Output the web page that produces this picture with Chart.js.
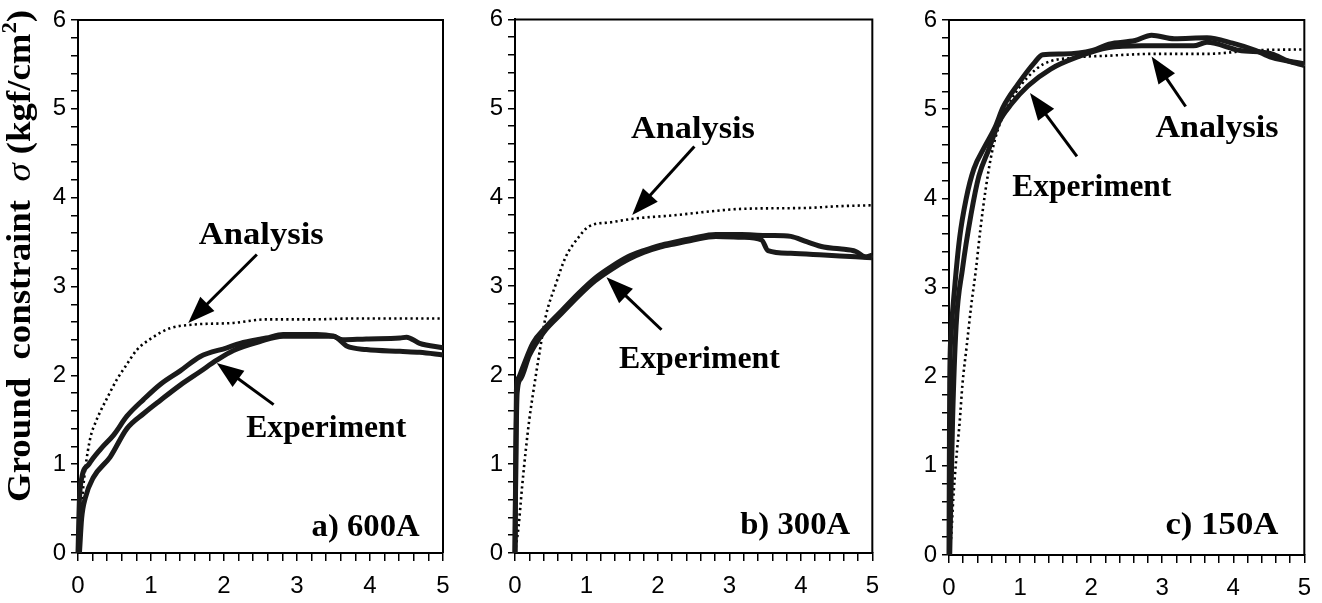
<!DOCTYPE html>
<html><head><meta charset="utf-8">
<script src="https://cdn.jsdelivr.net/npm/chart.js@4.4.0/dist/chart.umd.min.js"></script>
<style>
html,body{margin:0;padding:0;background:#fff;}
#wrap{position:relative;width:1322px;height:603px;overflow:hidden;background:#fff;}
canvas{position:absolute;top:0;}
</style></head><body>
<div id="wrap">
<canvas id="ca" width="462" height="603" style="left:0px"></canvas>
<canvas id="cb" width="428" height="603" style="left:462px"></canvas>
<canvas id="cc" width="432" height="603" style="left:890px"></canvas>
</div>
<script>
// ---------- tick labels ----------
const xTickLabels = [0, 1, 2, 3, 4, 5];
const yTickLabels = [0, 1, 2, 3, 4, 5, 6];
const panelLabels = ['a) 600A', 'b) 300A', 'c) 150A'];
const yTitleParts = ['Ground  constraint  ', 'σ', ' (kgf/cm', '2', ')'];

// ---------- panel a) 600A ----------
const aAnalysisX = [0, 0.05, 0.10, 0.17, 0.24, 0.31, 0.39, 0.53, 0.65, 0.81, 1.01, 1.26, 1.56, 2.13, 2.58, 3.2, 3.8, 4.4, 5.0];
const aAnalysisY = [0, 0.55, 0.95, 1.30, 1.47, 1.60, 1.73, 1.95, 2.10, 2.29, 2.42, 2.53, 2.57, 2.59, 2.63, 2.63, 2.64, 2.64, 2.64];
const aExp1X = [0, 0.02, 0.05, 0.15, 0.31, 0.49, 0.67, 0.90, 1.13, 1.40, 1.67, 2.04, 2.22, 2.58, 2.81, 3.27, 3.50, 3.63, 3.95, 4.41, 4.50, 4.68, 5.0];
const aExp1Y = [0, 0.61, 0.84, 1.00, 1.17, 1.33, 1.54, 1.73, 1.90, 2.05, 2.21, 2.31, 2.36, 2.42, 2.46, 2.46, 2.44, 2.40, 2.41, 2.42, 2.43, 2.36, 2.31];
const aExp2X = [0.02, 0.05, 0.10, 0.21, 0.44, 0.67, 0.90, 1.13, 1.40, 1.67, 1.90, 2.13, 2.49, 2.81, 3.50, 3.68, 3.95, 4.41, 4.68, 5.0];
const aExp2Y = [0, 0.39, 0.62, 0.85, 1.08, 1.40, 1.57, 1.72, 1.89, 2.04, 2.17, 2.28, 2.38, 2.44, 2.44, 2.33, 2.29, 2.27, 2.26, 2.23];

// ---------- panel b) 300A ----------
const bAnalysisX = [0, 0.05, 0.10, 0.15, 0.20, 0.25, 0.34, 0.43, 0.57, 0.71, 0.89, 1.03, 1.35, 1.67, 2.26, 2.72, 3.17, 4.08, 4.54, 5.0];
const bAnalysisY = [0, 0.30, 0.75, 1.15, 1.50, 1.78, 2.24, 2.66, 3.02, 3.33, 3.55, 3.67, 3.72, 3.76, 3.80, 3.84, 3.87, 3.88, 3.90, 3.91];
const bExp1X = [0, 0.01, 0.02, 0.05, 0.11, 0.25, 0.43, 0.66, 0.89, 1.12, 1.35, 1.58, 1.80, 2.03, 2.26, 2.49, 2.81, 3.17, 3.50, 3.63, 3.86, 4.08, 4.32, 4.54, 4.77, 4.90, 5.0];
const bExp1Y = [0, 1.00, 1.83, 1.97, 2.09, 2.36, 2.54, 2.73, 2.92, 3.09, 3.22, 3.33, 3.40, 3.46, 3.50, 3.54, 3.58, 3.58, 3.57, 3.57, 3.56, 3.50, 3.44, 3.42, 3.39, 3.33, 3.35];
const bExp2X = [0, 0.01, 0.03, 0.08, 0.20, 0.40, 0.66, 0.89, 1.12, 1.35, 1.58, 1.80, 2.03, 2.26, 2.49, 2.81, 3.17, 3.45, 3.54, 3.86, 4.32, 4.77, 5.0];
const bExp2Y = [0, 0.90, 1.80, 1.96, 2.22, 2.48, 2.70, 2.89, 3.06, 3.19, 3.30, 3.38, 3.44, 3.48, 3.52, 3.56, 3.55, 3.52, 3.40, 3.37, 3.35, 3.33, 3.32];

// ---------- panel c) 150A ----------
const cAnalysisX = [0, 0.03, 0.06, 0.10, 0.15, 0.19, 0.25, 0.31, 0.38, 0.44, 0.51, 0.60, 0.70, 0.88, 1.11, 1.34, 1.79, 2.25, 2.85, 3.63, 4.31, 5.0];
const cAnalysisY = [0, 0.20, 0.63, 1.06, 1.49, 1.92, 2.35, 2.78, 3.21, 3.64, 4.07, 4.50, 4.80, 5.11, 5.36, 5.51, 5.58, 5.60, 5.62, 5.62, 5.66, 5.67];
const cExp1X = [0, 0.005, 0.01, 0.03, 0.08, 0.15, 0.24, 0.35, 0.51, 0.65, 0.76, 0.97, 1.20, 1.32, 1.61, 2.02, 2.25, 2.62, 2.85, 3.17, 3.63, 3.99, 4.31, 4.54, 5.0];
const cExp1Y = [0, 1.06, 1.92, 2.48, 3.00, 3.56, 3.99, 4.33, 4.59, 4.80, 5.02, 5.28, 5.52, 5.61, 5.62, 5.66, 5.73, 5.77, 5.83, 5.79, 5.80, 5.74, 5.66, 5.58, 5.51];
const cExp2X = [0.01, 0.05, 0.10, 0.19, 0.31, 0.42, 0.56, 0.70, 0.88, 1.11, 1.43, 1.79, 2.25, 2.71, 3.17, 3.44, 3.63, 4.08, 4.54, 4.77, 5.0];
const cExp2Y = [0, 1.50, 2.57, 3.21, 3.82, 4.25, 4.55, 4.85, 5.06, 5.26, 5.45, 5.58, 5.69, 5.71, 5.71, 5.71, 5.75, 5.66, 5.62, 5.54, 5.49];

// ---------- helpers ----------
const pts = (xs, ys) => xs.map((x, i) => ({ x: x, y: ys[i] }));
const labelFor = list => v => {
  const r = Math.round(v);
  return (Math.abs(v - r) < 1e-6 && list.includes(r)) ? String(r) : '';
};
const SERIF = '"Liberation Serif", "Times New Roman", serif';
const SANS = '"Liberation Sans", Arial, Helvetica, sans-serif';

const framePlugin = {
  id: 'frame',
  beforeDatasetsDraw(c) {
    const { ctx, chartArea: a } = c;
    ctx.save();
    ctx.strokeStyle = '#000'; ctx.lineWidth = 2;
    ctx.beginPath();
    ctx.moveTo(a.left, a.top); ctx.lineTo(a.right, a.top); ctx.lineTo(a.right, a.bottom);
    ctx.stroke();
    ctx.restore();
  }
};

function annotPlugin(ann) {
  return {
    id: 'annot',
    afterDraw(c) {
      const { ctx } = c;
      const sx = c.scales.x, sy = c.scales.y;
      ctx.save();
      ctx.fillStyle = '#000';
      ctx.strokeStyle = '#000';
      ann.texts.forEach(t => {
        ctx.font = 'bold 32px ' + SERIF;
        const m = ctx.measureText(t.t).width;
        const s = t.w / m;
        ctx.save();
        ctx.translate(sx.getPixelForValue(t.x), sy.getPixelForValue(t.y));
        ctx.scale(s, 1);
        ctx.textAlign = 'center';
        ctx.textBaseline = 'alphabetic';
        ctx.fillText(t.t, 0, 0);
        ctx.restore();
      });
      ann.arrows.forEach(a => {
        const x0 = sx.getPixelForValue(a.x0), y0 = sy.getPixelForValue(a.y0);
        const x1 = sx.getPixelForValue(a.x1), y1 = sy.getPixelForValue(a.y1);
        const dx = x1 - x0, dy = y1 - y0, L = Math.hypot(dx, dy);
        const ux = dx / L, uy = dy / L, px = -uy, py = ux;
        const hl = 27, hw = 10;
        const bx = x1 - ux * hl, by = y1 - uy * hl;
        ctx.lineWidth = 3;
        ctx.beginPath(); ctx.moveTo(x0, y0); ctx.lineTo(bx + ux * 2, by + uy * 2); ctx.stroke();
        ctx.beginPath();
        ctx.moveTo(x1, y1);
        ctx.lineTo(bx + px * hw, by + py * hw);
        ctx.lineTo(bx - px * hw, by - py * hw);
        ctx.closePath(); ctx.fill();
      });
      if (ann.yTitle) {
        const f = [
          'bold 34px ' + SERIF, 'italic 34px ' + SERIF, 'bold 34px ' + SERIF,
          'bold 21px ' + SERIF, 'bold 34px ' + SERIF
        ];
        const dy = [0, 0, 0, -14, 0];
        let W = 0;
        const ws = yTitleParts.map((p, i) => { ctx.font = f[i]; const w = ctx.measureText(p).width; W += w; return w; });
        const s = ann.yTitle.len / W;
        ctx.save();
        ctx.translate(ann.yTitle.cx, ann.yTitle.cy);
        ctx.rotate(-Math.PI / 2);
        ctx.scale(s, 1);
        ctx.textAlign = 'left';
        ctx.textBaseline = 'alphabetic';
        let x = -W / 2;
        yTitleParts.forEach((p, i) => { ctx.font = f[i]; ctx.fillText(p, x, dy[i]); x += ws[i]; });
        ctx.restore();
      }
      ctx.restore();
    }
  };
}

function makeChart(id, g, anaPts, expSets, ann) {
  const common = { pointRadius: 0, pointHoverRadius: 0, fill: false, cubicInterpolationMode: 'monotone', clip: false };
  const datasets = [];
  expSets.forEach(d => datasets.push(Object.assign({ data: d, borderColor: '#1a1a1a', borderWidth: 5 }, common)));
  expSets.forEach(d => datasets.push(Object.assign({ data: d, borderColor: 'rgba(255,255,255,0.9)', borderWidth: 1.7, borderDash: [1.3, 2.3] }, common)));
  datasets.push(Object.assign({ data: anaPts, borderColor: '#000', borderWidth: 2.6, borderDash: [2.2, 3.2] }, common));
  return new Chart(document.getElementById(id), {
    type: 'line',
    data: { datasets: datasets },
    options: {
      responsive: false, animation: false, devicePixelRatio: 1,
      layout: { padding: { left: 0, right: g.padR, top: g.top, bottom: 0 } },
      plugins: { legend: { display: false }, tooltip: { enabled: false } },
      scales: {
        x: {
          type: 'linear', min: 0, max: 5,
          afterFit(s) { s.height = g.xH; },
          ticks: { stepSize: 0.2, autoSkip: false, maxRotation: 0, callback: labelFor(xTickLabels),
                   font: { family: SANS, size: 24 }, color: '#000', padding: 11 },
          grid: { drawOnChartArea: false, tickLength: 8, color: '#000', lineWidth: 1.5 },
          border: { color: '#000', width: 2 }
        },
        y: {
          type: 'linear', min: 0, max: 6,
          afterFit(s) { s.width = g.yW; },
          ticks: { stepSize: 0.2, autoSkip: false, callback: labelFor(yTickLabels),
                   font: { family: SANS, size: 24 }, color: '#000', padding: 5 },
          grid: { drawOnChartArea: false, tickLength: 7, color: '#000', lineWidth: 1.5 },
          border: { color: '#000', width: 2 }
        }
      }
    },
    plugins: [framePlugin, annotPlugin(ann)]
  });
}

makeChart('ca', { padR: 19, top: 20, xH: 50, yW: 78 },
  pts(aAnalysisX, aAnalysisY), [pts(aExp1X, aExp1Y), pts(aExp2X, aExp2Y)],
  {
    texts: [
      { t: 'Analysis', x: 2.51, y: 3.48, w: 125 },
      { t: 'Experiment', x: 3.40, y: 1.31, w: 160 },
      { t: panelLabels[0], x: 3.94, y: 0.19, w: 108 }
    ],
    arrows: [
      { x0: 2.45, y0: 3.36, x1: 1.51, y1: 2.59 },
      { x0: 2.68, y0: 1.67, x1: 1.90, y1: 2.14 }
    ],
    yTitle: { cx: 30, cy: 256, len: 492 }
  });

makeChart('cb', { padR: 10, top: 19, xH: 50, yW: 53 },
  pts(bAnalysisX, bAnalysisY), [pts(bExp1X, bExp1Y), pts(bExp2X, bExp2Y)],
  {
    texts: [
      { t: 'Analysis', x: 2.49, y: 4.67, w: 124 },
      { t: 'Experiment', x: 2.58, y: 2.08, w: 161 },
      { t: panelLabels[1], x: 3.92, y: 0.21, w: 110 }
    ],
    arrows: [
      { x0: 2.51, y0: 4.57, x1: 1.64, y1: 3.80 },
      { x0: 2.05, y0: 2.51, x1: 1.28, y1: 3.10 }
    ]
  });

makeChart('cc', { padR: 9, top: 20, xH: 48, yW: 59 },
  pts(cAnalysisX, cAnalysisY), [pts(cExp1X, cExp1Y), pts(cExp2X, cExp2Y)],
  {
    texts: [
      { t: 'Analysis', x: 3.77, y: 4.69, w: 123 },
      { t: 'Experiment', x: 2.01, y: 4.03, w: 159 },
      { t: panelLabels[2], x: 3.84, y: 0.24, w: 113 }
    ],
    arrows: [
      { x0: 1.80, y0: 4.47, x1: 1.14, y1: 5.18 },
      { x0: 3.33, y0: 5.03, x1: 2.85, y1: 5.59 }
    ]
  });
</script>
</body></html>
